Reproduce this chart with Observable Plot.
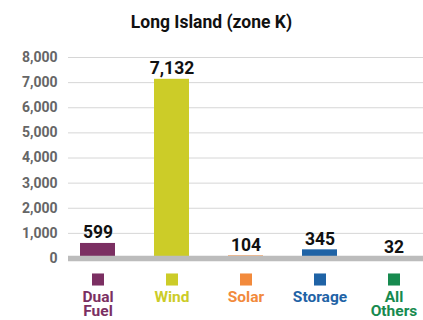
<!DOCTYPE html>
<html>
<head>
<meta charset="utf-8">
<script src="https://cdn.jsdelivr.net/npm/d3@7"></script>
<script src="https://cdn.jsdelivr.net/npm/@observablehq/plot@0.6"></script>
<style>
  body { margin: 0; background: #fff; font-family: Roboto, "Noto Sans", sans-serif; }
  #title { height: 36px; line-height: 44px; overflow: visible; text-align: center; font-weight: 700; font-size: 17.5px; color: #111; }
</style>
</head>
<body>
<div id="title">Long Island (zone K)</div>
<div id="chart"></div>
<script>
// Capacity by resource type, Long Island (zone K)
const categories = ["Dual Fuel", "Wind", "Solar", "Storage", "All Others"];
const labels = ["Dual\nFuel", "Wind", "Solar", "Storage", "All\nOthers"];
const values = [599, 7132, 104, 345, 32];
const colors = ["#7b2f62", "#cccc28", "#f28a3c", "#1f63a6", "#178a4f"];
const yTicks = [0, 1000, 2000, 3000, 4000, 5000, 6000, 7000, 8000];

const rows = categories.map((c, i) => ({category: c, label: labels[i], value: values[i], color: colors[i]}));

const chart = Plot.plot({
  width: 423,
  height: 284,
  marginTop: 21,
  marginBottom: 62,
  marginLeft: 68,
  marginRight: 0,
  style: {fontFamily: "Roboto, sans-serif"},
  x: {domain: categories, paddingInner: 0.53, paddingOuter: 0.15, axis: null},
  y: {domain: [0, 8000], ticks: yTicks, tickFormat: d3.format(","), tickSize: 0, tickPadding: 11, label: null},
  color: {type: "identity"},
  marks: [
    Plot.ruleY(yTicks.filter(d => d > 0), {stroke: "#d6d6d6", strokeWidth: 1}),
    Plot.axisY({ticks: yTicks, tickFormat: d3.format(","), tickSize: 0, tickPadding: 11, label: null,
      fill: "#666", fontWeight: 700, fontSize: 14}),
    Plot.barY(rows, {x: "category", y: "value", fill: "color"}),
    Plot.ruleY([0], {stroke: "#bcbcbc", strokeWidth: 5.5}),
    Plot.text(rows, {x: "category", y: "value", text: d => d3.format(",")(d.value),
      lineAnchor: "bottom", dy: -5, fontWeight: 700, fontSize: 17.5, fill: "#111"}),
    Plot.dot(rows, {x: "category", frameAnchor: "bottom", dy: 21, symbol: "square", r: 6.8, fill: "color", stroke: null}),
    Plot.text(rows, {x: "category", frameAnchor: "bottom", dy: 33, text: "label", lineAnchor: "top",
      lineHeight: 0.94, fill: "color", fontWeight: 700, fontSize: 15.5})
  ]
});
document.getElementById("chart").appendChild(chart);
</script>
</body>
</html>
